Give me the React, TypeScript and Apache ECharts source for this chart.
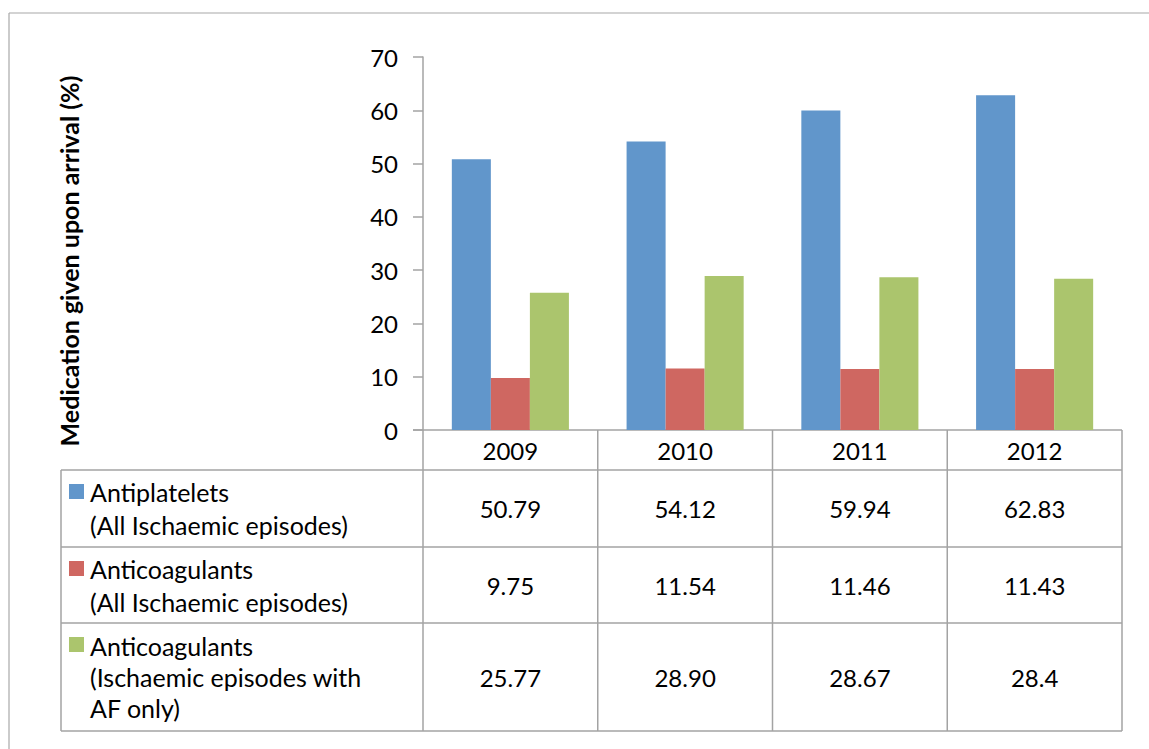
import React, { useEffect, useRef } from "react";
import * as echarts from "echarts";

const years = ["2009", "2010", "2011", "2012"];
const antiplateletsAll = ["50.79", "54.12", "59.94", "62.83"];
const anticoagulantsAll = ["9.75", "11.54", "11.46", "11.43"];
const anticoagulantsAF = ["25.77", "28.90", "28.67", "28.4"];
const seriesData = [antiplateletsAll, anticoagulantsAll, anticoagulantsAF];
const seriesNames = [
  ["Antiplatelets", "(All Ischaemic episodes)"],
  ["Anticoagulants", "(All Ischaemic episodes)"],
  ["Anticoagulants", "(Ischaemic episodes with", "AF only)"],
];
const colors = ["#6196CB", "#CF6761", "#ABC56D"];
const yTitle = "Medication given upon arrival (%)";

const W = 1149;
const H = 749;
const plotLeft = 423;
const plotRight = 1122;
const plotTop = 57;
const plotBottom = 430;
const tableLeft = 61;
const rowBounds = [470, 547, 623, 731];
const lineColor = "#a3a3a3";
const FONT = "Lato, 'Open Sans', sans-serif";

export default function App() {
  const ref = useRef<HTMLDivElement>(null);
  useEffect(() => {
    document.body.style.margin = "0";
    if (!ref.current) return;
    const chart = echarts.init(ref.current, undefined, { renderer: "svg" });
    const colW = (plotRight - plotLeft) / years.length;
    const graphics: any[] = [];
    const line = (x1: number, y1: number, x2: number, y2: number, w = 1.5, c = lineColor) =>
      graphics.push({ type: "line", silent: true, shape: { x1, y1, x2, y2 }, style: { stroke: c, lineWidth: w } });

    // outer frame (left and top edges)
    line(9, 13, 1149, 13, 1.2, "#a8a8a8");
    line(9, 13, 9, 749, 1.2, "#a8a8a8");
    // x axis line / table top
    line(plotLeft - 10, plotBottom, plotRight, plotBottom);
    rowBounds.forEach((y) => line(tableLeft, y, plotRight, y));
    line(tableLeft, rowBounds[0], tableLeft, rowBounds[rowBounds.length - 1]);
    for (let i = 0; i <= years.length; i++) {
      const x = plotLeft + i * colW;
      line(x, plotBottom, x, rowBounds[rowBounds.length - 1]);
    }
    // year header
    years.forEach((yr, i) => {
      graphics.push({
        type: "text",
        x: plotLeft + (i + 0.5) * colW,
        y: (plotBottom + rowBounds[0]) / 2,
        style: { text: yr, font: `24px ${FONT}`, fill: "#000", align: "center", verticalAlign: "middle" },
      });
    });
    // rows
    seriesData.forEach((vals, r) => {
      const top = rowBounds[r];
      const bot = rowBounds[r + 1];
      const mid = (top + bot) / 2;
      graphics.push({
        type: "rect",
        shape: { x: 69, y: top + 14, width: 15, height: 15 },
        style: { fill: colors[r] },
      });
      const lines = seriesNames[r];
      const lh = lines.length > 2 ? 31 : 33;
      const firstY = mid - ((lines.length - 1) * lh) / 2;
      lines.forEach((t, k) => {
        graphics.push({
          type: "text",
          x: 90,
          y: firstY + k * lh,
          style: { text: t, font: `25px ${FONT}`, fill: "#000", align: "left", verticalAlign: "middle" },
        });
      });
      vals.forEach((v, i) => {
        graphics.push({
          type: "text",
          x: plotLeft + (i + 0.5) * colW,
          y: mid,
          style: { text: v, font: `24px ${FONT}`, fill: "#000", align: "center", verticalAlign: "middle" },
        });
      });
    });
    // y axis title
    graphics.push({
      type: "text",
      x: 69,
      y: 261,
      rotation: Math.PI / 2,
      style: { text: yTitle, font: `bold 25px ${FONT}`, fill: "#000", align: "center", verticalAlign: "middle" },
    });

    chart.setOption({
      animation: false,
      backgroundColor: "#fff",
      grid: {
        left: plotLeft,
        top: plotTop,
        width: plotRight - plotLeft,
        height: plotBottom - plotTop,
        containLabel: false,
      },
      xAxis: {
        type: "category",
        data: years,
        axisLine: { show: false },
        axisTick: { show: false },
        axisLabel: { show: false },
      },
      yAxis: {
        type: "value",
        min: 0,
        max: 70,
        interval: 10,
        splitLine: { show: false },
        axisLine: { show: true, lineStyle: { color: lineColor, width: 1.5 } },
        axisTick: { show: true, length: 10, lineStyle: { color: lineColor, width: 1.5 } },
        axisLabel: { margin: 25, fontSize: 24, fontFamily: FONT, color: "#000" },
      },
      series: seriesData.map((vals, r) => ({
        type: "bar",
        name: seriesNames[r].join(" "),
        data: vals.map(Number),
        barGap: "0%",
        barCategoryGap: "33%",
        itemStyle: { color: colors[r] },
      })),
      graphic: graphics,
    });
    return () => chart.dispose();
  }, []);
  return <div ref={ref} style={{ width: W, height: H }} />;
}
